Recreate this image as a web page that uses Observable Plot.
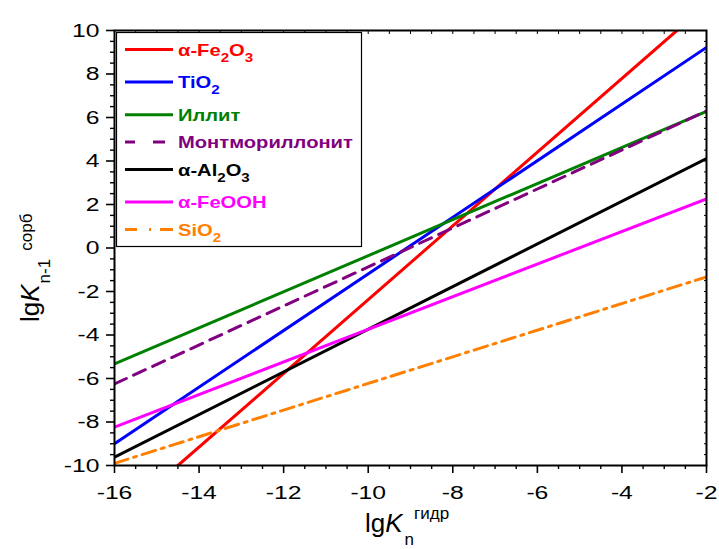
<!DOCTYPE html>
<html>
<head>
<meta charset="utf-8">
<script src="https://cdn.jsdelivr.net/npm/d3@7"></script>
<script src="https://cdn.jsdelivr.net/npm/@observablehq/plot@0.6"></script>
<style>
  html, body { margin: 0; padding: 0; background: #fff; }
  #chart { width: 719px; height: 549px; }
</style>
</head>
<body>
<div id="chart"></div>
<script>
// ---- data ----
const names   = ["α-Fe2O3", "TiO2", "Иллит", "Монтмориллонит", "α-Al2O3", "α-FeOOH", "SiO2"];
const mainTxt = ["α-Fe", "TiO", "Иллит", "Монтмориллонит", "α-Al", "α-FeOOH", "SiO"];
const colors  = ["#ff0000", "#0000ff", "#008000", "#800080", "#000000", "#ff00ff", "#ff8000"];
const xStart  = [-14.5, -16, -16, -16, -16, -16, -16];
const yStart  = [-10, -9.0, -5.33, -6.25, -9.62, -8.24, -9.9];
const xEnd    = [-2.7, -2, -2, -2, -2, -2, -2];
const yEnd    = [10, 9.22, 6.28, 6.3, 4.11, 2.26, -1.33];
const xTicks  = [-16, -14, -12, -10, -8, -6, -4, -2];
const yTicks  = [-10, -8, -6, -4, -2, 0, 2, 4, 6, 8, 10];

// ---- styles ----
const dashes       = [null, null, null, "13,8", null, null, "14,6,3,6"];
const legendDashes = [null, null, null, "10,18,12,100", null, null, "12,12,2,9,13,100"];
const FONT = "'Liberation Sans', Arial, Helvetica, sans-serif";
const STRETCH = 1.3; // reference glyphs are horizontally wide

// table built from the arrays
const rows = [];
names.forEach((n, i) => {
  rows.push({name: n, i, x: xStart[i], y: yStart[i]});
  rows.push({name: n, i, x: xEnd[i], y: yEnd[i]});
});

const minorX = d3.range(-16, -1.99, 0.5).filter(v => !xTicks.includes(v));
const minorY = d3.range(-10, 10.01, 0.5).filter(v => !yTicks.includes(Math.round(v * 100) / 100));
const allX = d3.range(-16, -1.99, 0.5);
const allY = d3.range(-10, 10.01, 0.5);

const lineMarks = names.map((n, i) =>
  Plot.line(rows.filter(r => r.i === i), {
    x: "x", y: "y", stroke: colors[i], strokeWidth: 3,
    strokeDasharray: dashes[i] || undefined, clip: true
  })
);

const chart = Plot.plot({
  width: 719, height: 549,
  marginLeft: 114, marginRight: 13, marginTop: 30, marginBottom: 84,
  style: {fontFamily: FONT, fontSize: "19px", background: "#fff", color: "#000", overflow: "visible"},
  x: {domain: [-16, -2]},
  y: {domain: [-10, 10]},
  marks: [
    ...lineMarks,
    Plot.axisX(xTicks, {tickSize: 8, tickPadding: 12, tickFormat: d => String(d), fontSize: 19, label: null, strokeWidth: 1.6}),
    Plot.axisX(minorX, {tickSize: 4, tickFormat: () => "", label: null, strokeWidth: 1.4}),
    Plot.axisY(yTicks, {tickSize: 8, tickPadding: 7, tickFormat: d => String(d), fontSize: 19, label: null, strokeWidth: 1.6}),
    Plot.axisY(minorY, {tickSize: 4, tickFormat: () => "", label: null, strokeWidth: 1.4}),
    Plot.axisX(allX, {anchor: "top", tickSize: -3, tickFormat: () => "", label: null, strokeWidth: 1}),
    Plot.axisY(allY, {anchor: "right", tickSize: -3, tickFormat: () => "", label: null, strokeWidth: 1}),
    Plot.frame({stroke: "#000", strokeWidth: 2})
  ]
});

document.getElementById("chart").appendChild(chart);
const svg = d3.select(chart);

// widen Plot's tick labels around their anchor point (keeps Plot's own positioning)
svg.selectAll("text").each(function () {
  try {
    if (!this.textContent) return;
    this.style.fontSize = "19px";
    this.style.fontFamily = FONT;
    const b = this.getBBox();
    if (!b || !isFinite(b.x) || b.width === 0) return;
    const anchor = getComputedStyle(this).textAnchor;
    const a = anchor === "end" ? b.x + b.width : anchor === "middle" ? b.x + b.width / 2 : b.x;
    const t = this.getAttribute("transform") || "";
    this.setAttribute("transform", `${t} translate(${a},0) scale(${STRETCH},1) translate(${-a},0)`.trim());
  } catch (e) { /* leave label as drawn */ }
});

// ---- axis titles ----
const xl = svg.append("text")
  .attr("x", 365).attr("y", 532).attr("text-anchor", "start")
  .attr("font-family", FONT).style("font-size", "26px").attr("fill", "#000");
xl.append("tspan").text("lg");
xl.append("tspan").attr("font-style", "italic").text("K");
xl.append("tspan").style("font-size", "17px").attr("dy", 13).attr("dx", 2).text("n");
xl.append("tspan").style("font-size", "17px").attr("dy", -26).attr("dx", 0).text("гидр");

const yl = svg.append("text")
  .attr("transform", "translate(39,322) rotate(-90)").attr("text-anchor", "start")
  .attr("font-family", FONT).style("font-size", "26px").attr("fill", "#000");
yl.append("tspan").text("lg");
yl.append("tspan").attr("font-style", "italic").text("K");
yl.append("tspan").style("font-size", "17px").attr("dy", 11).attr("dx", 1).text("n-1");
yl.append("tspan").style("font-size", "17px").attr("dy", -18).attr("dx", 8).text("сорб");

// ---- legend ----
const lg = svg.append("g").attr("font-family", FONT).attr("font-weight", "bold").attr("text-anchor", "start");
lg.append("rect").attr("x", 116.5).attr("y", 32.5).attr("width", 245).attr("height", 214)
  .attr("fill", "#fff").attr("stroke", "#000").attr("stroke-width", 1.2);
const hasSub = [true, true, false, false, true, false, true];
const subs = [["2", "3"], ["2"], [], [], ["2", "3"], [], ["2"]];
let yy = 49.5;
names.forEach((n, i) => {
  lg.append("line").attr("x1", 125).attr("x2", 173).attr("y1", yy).attr("y2", yy)
    .attr("stroke", colors[i]).attr("stroke-width", 3)
    .attr("stroke-dasharray", legendDashes[i]);
  const t = lg.append("text")
    .attr("transform", `translate(178,${yy + 6}) scale(${STRETCH * 0.97},1)`)
    .attr("text-anchor", "start")
    .style("font-size", "16px").attr("fill", colors[i]);
  if (subs[i].length === 2) {
    t.append("tspan").text(mainTxt[i]);
    t.append("tspan").style("font-size", "12px").attr("dy", 6).text(subs[i][0]);
    t.append("tspan").attr("dy", -6).text("O");
    t.append("tspan").style("font-size", "12px").attr("dy", 6).text(subs[i][1]);
  } else if (subs[i].length === 1) {
    t.append("tspan").text(mainTxt[i]);
    t.append("tspan").style("font-size", "12px").attr("dy", 6).text(subs[i][0]);
  } else {
    t.text(mainTxt[i]);
  }
  yy += hasSub[i] ? 32.6 : 27.4;
});
</script>
</body>
</html>
